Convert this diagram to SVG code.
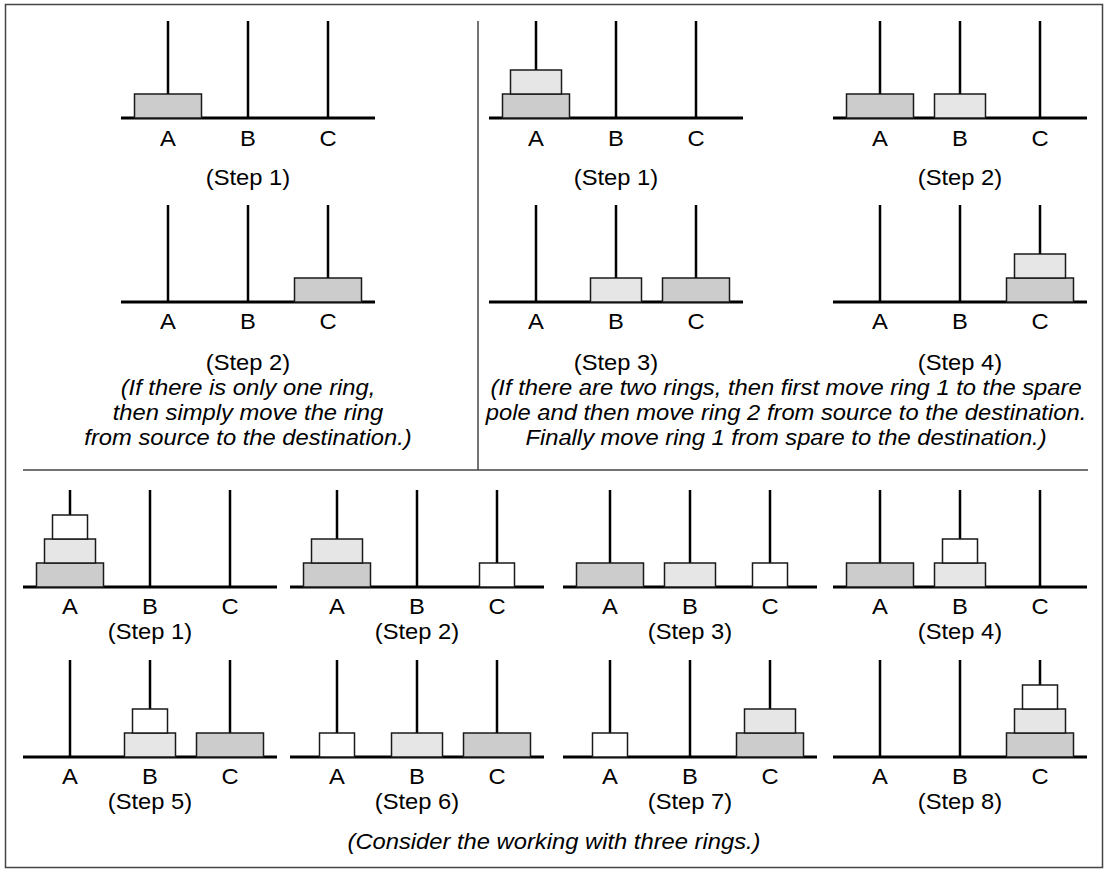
<svg xmlns="http://www.w3.org/2000/svg" width="1108" height="871" viewBox="0 0 1108 871">
<style>
.frame{fill:#fff;stroke:#444;stroke-width:1.5}
.div{stroke:#444;stroke-width:1.5}
.pole{stroke:#000;stroke-width:2.5}
.base{stroke:#000;stroke-width:3}
.ring{stroke:#1a1a1a;stroke-width:1.5}
.r1{fill:#cccccc}
.r2{fill:#e6e6e6}
.r3{fill:#ffffff}
text{font-family:"Liberation Sans",Arial,Helvetica,sans-serif;font-size:21.5px;fill:#000;text-anchor:middle}
.it{font-style:italic}
</style>
<defs>
<g id="stand">
<line class="base" x1="-47" y1="0" x2="207" y2="0"/>
<line class="pole" x1="0" y1="-97" x2="0" y2="0"/>
<line class="pole" x1="80" y1="-97" x2="80" y2="0"/>
<line class="pole" x1="160" y1="-97" x2="160" y2="0"/>
</g>
<rect id="rb" class="ring r1" x="-33.5" y="-24" width="67" height="24"/>
<rect id="rm" class="ring r2" x="-25.5" y="-24" width="51" height="24"/>
<rect id="rs" class="ring r3" x="-17.5" y="-24" width="35" height="24"/>
<g id="abc-top">
<text transform="translate(0 28) scale(1.105 1)">A</text>
<text transform="translate(80 28) scale(1.105 1)">B</text>
<text transform="translate(160 28) scale(1.105 1)">C</text>
</g>
<g id="abc-mid">
<text transform="translate(0 27) scale(1.105 1)">A</text>
<text transform="translate(80 27) scale(1.105 1)">B</text>
<text transform="translate(160 27) scale(1.105 1)">C</text>
</g>
</defs>

<rect class="frame" x="5.5" y="4.5" width="1097" height="863"/>
<g id="dividers">
<line class="div" x1="478" y1="21" x2="478" y2="470"/>
<line class="div" x1="23" y1="470" x2="1088" y2="470"/>
</g>

<g id="one-step1" transform="translate(168 118)">
<use href="#stand"/>
<use href="#rb" x="0" y="0"/>
<use href="#abc-top"/>
<text transform="translate(80 67) scale(1.105 1)">(Step 1)</text>
</g>
<g id="one-step2" transform="translate(168 302)">
<use href="#stand"/>
<use href="#rb" x="160" y="0"/>
<use href="#abc-mid"/>
<text transform="translate(80 68) scale(1.105 1)">(Step 2)</text>
</g>
<g id="one-note">
<text class="it" transform="translate(248 395) scale(1.105 1)">(If there is only one ring,</text>
<text class="it" transform="translate(248 420) scale(1.105 1)">then simply move the ring</text>
<text class="it" transform="translate(248 445) scale(1.105 1)">from source to the destination.)</text>
</g>

<g id="two-step1" transform="translate(536 118)">
<use href="#stand"/>
<use href="#rb" x="0" y="0"/>
<use href="#rm" x="0" y="-24"/>
<use href="#abc-top"/>
<text transform="translate(80 67) scale(1.105 1)">(Step 1)</text>
</g>
<g id="two-step2" transform="translate(880 118)">
<use href="#stand"/>
<use href="#rb" x="0" y="0"/>
<use href="#rm" x="80" y="0"/>
<use href="#abc-top"/>
<text transform="translate(80 67) scale(1.105 1)">(Step 2)</text>
</g>
<g id="two-step3" transform="translate(536 302)">
<use href="#stand"/>
<use href="#rm" x="80" y="0"/>
<use href="#rb" x="160" y="0"/>
<use href="#abc-mid"/>
<text transform="translate(80 68) scale(1.105 1)">(Step 3)</text>
</g>
<g id="two-step4" transform="translate(880 302)">
<use href="#stand"/>
<use href="#rb" x="160" y="0"/>
<use href="#rm" x="160" y="-24"/>
<use href="#abc-mid"/>
<text transform="translate(80 68) scale(1.105 1)">(Step 4)</text>
</g>
<g id="two-note">
<text class="it" transform="translate(786 395) scale(1.105 1)">(If there are two rings, then first move ring 1 to the spare</text>
<text class="it" transform="translate(786 420) scale(1.105 1)">pole and then move ring 2 from source to the destination.</text>
<text class="it" transform="translate(786 445) scale(1.105 1)">Finally move ring 1 from spare to the destination.)</text>
</g>

<g id="three-step1" transform="translate(70 587)">
<use href="#stand"/>
<use href="#rb" x="0" y="0"/>
<use href="#rm" x="0" y="-24"/>
<use href="#rs" x="0" y="-48"/>
<use href="#abc-mid"/>
<text transform="translate(80 52) scale(1.105 1)">(Step 1)</text>
</g>
<g id="three-step2" transform="translate(337 587)">
<use href="#stand"/>
<use href="#rb" x="0" y="0"/>
<use href="#rm" x="0" y="-24"/>
<use href="#rs" x="160" y="0"/>
<use href="#abc-mid"/>
<text transform="translate(80 52) scale(1.105 1)">(Step 2)</text>
</g>
<g id="three-step3" transform="translate(610 587)">
<use href="#stand"/>
<use href="#rb" x="0" y="0"/>
<use href="#rm" x="80" y="0"/>
<use href="#rs" x="160" y="0"/>
<use href="#abc-mid"/>
<text transform="translate(80 52) scale(1.105 1)">(Step 3)</text>
</g>
<g id="three-step4" transform="translate(880 587)">
<use href="#stand"/>
<use href="#rb" x="0" y="0"/>
<use href="#rm" x="80" y="0"/>
<use href="#rs" x="80" y="-24"/>
<use href="#abc-mid"/>
<text transform="translate(80 52) scale(1.105 1)">(Step 4)</text>
</g>
<g id="three-step5" transform="translate(70 757)">
<use href="#stand"/>
<use href="#rm" x="80" y="0"/>
<use href="#rs" x="80" y="-24"/>
<use href="#rb" x="160" y="0"/>
<use href="#abc-mid"/>
<text transform="translate(80 52) scale(1.105 1)">(Step 5)</text>
</g>
<g id="three-step6" transform="translate(337 757)">
<use href="#stand"/>
<use href="#rs" x="0" y="0"/>
<use href="#rm" x="80" y="0"/>
<use href="#rb" x="160" y="0"/>
<use href="#abc-mid"/>
<text transform="translate(80 52) scale(1.105 1)">(Step 6)</text>
</g>
<g id="three-step7" transform="translate(610 757)">
<use href="#stand"/>
<use href="#rs" x="0" y="0"/>
<use href="#rb" x="160" y="0"/>
<use href="#rm" x="160" y="-24"/>
<use href="#abc-mid"/>
<text transform="translate(80 52) scale(1.105 1)">(Step 7)</text>
</g>
<g id="three-step8" transform="translate(880 757)">
<use href="#stand"/>
<use href="#rb" x="160" y="0"/>
<use href="#rm" x="160" y="-24"/>
<use href="#rs" x="160" y="-48"/>
<use href="#abc-mid"/>
<text transform="translate(80 52) scale(1.105 1)">(Step 8)</text>
</g>
<g id="three-note">
<text class="it" transform="translate(554 849) scale(1.105 1)">(Consider the working with three rings.)</text>
</g>
</svg>
